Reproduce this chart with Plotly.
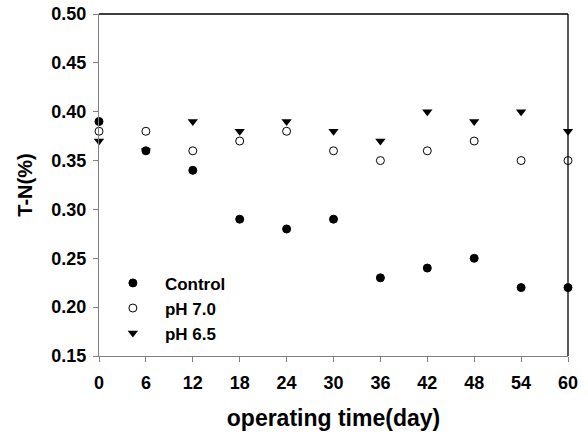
import plotly.graph_objects as go

days = [0, 6, 12, 18, 24, 30, 36, 42, 48, 54, 60]
control = [0.39, 0.36, 0.34, 0.29, 0.28, 0.29, 0.23, 0.24, 0.25, 0.22, 0.22]
ph70 = [0.38, 0.38, 0.36, 0.37, 0.38, 0.36, 0.35, 0.36, 0.37, 0.35, 0.35]
ph65 = [0.37, 0.36, 0.39, 0.38, 0.39, 0.38, 0.37, 0.40, 0.39, 0.40, 0.38]
x_ticks = [0, 6, 12, 18, 24, 30, 36, 42, 48, 54, 60]
y_ticks = [0.15, 0.20, 0.25, 0.30, 0.35, 0.40, 0.45, 0.50]

FONT = "Liberation Sans, Arial, sans-serif"

fig = go.Figure()
fig.add_trace(go.Scatter(x=days, y=control, mode="markers", name="Control",
                         marker=dict(symbol="circle", size=8, color="black",
                                     line=dict(color="black", width=1)),
                         cliponaxis=False))
fig.add_trace(go.Scatter(x=days, y=ph70, mode="markers", name="pH 7.0",
                         marker=dict(symbol="circle-open", size=8, color="black",
                                     line=dict(color="black", width=1)),
                         cliponaxis=False))
fig.add_trace(go.Scatter(x=days, y=ph65, mode="markers", name="pH 6.5",
                         marker=dict(symbol="triangle-down", size=9, color="black",
                                     line=dict(color="black", width=0)),
                         cliponaxis=False))

# top and right frame lines (black)
fig.add_shape(type="line", xref="paper", yref="paper", x0=0, x1=1, y0=1, y1=1,
              line=dict(color="black", width=1.3))
fig.add_shape(type="line", xref="paper", yref="paper", x0=1, x1=1, y0=0, y1=1,
              line=dict(color="black", width=1.3))

fig.update_layout(
    width=588, height=434,
    margin=dict(l=99, r=20, t=14, b=78, autoexpand=False),
    plot_bgcolor="white", paper_bgcolor="white",
    font=dict(family=FONT, size=16, color="black", weight="bold"),
    showlegend=True,
    legend=dict(x=0.004, y=0.265, xanchor="left", yanchor="top",
                bgcolor="rgba(0,0,0,0)", font=dict(size=17, weight="bold"),
                tracegroupgap=0, itemwidth=54),
    xaxis=dict(range=[0, 60], tickvals=x_ticks, ticktext=[str(v) for v in x_ticks],
               automargin=False,
               showgrid=False, zeroline=False, showline=True, linecolor="#808080",
               linewidth=1.3, ticks="outside", ticklen=5, tickcolor="#808080",
               ticklabelstandoff=5,
               tickfont=dict(size=18, weight="bold"),
               title=dict(text="operating time(day)", font=dict(size=23, weight="bold"),
                          standoff=18)),
    yaxis=dict(range=[0.15, 0.50], tickvals=y_ticks,
               ticktext=[f"{v:.2f}" for v in y_ticks],
               automargin=False,
               showgrid=False, zeroline=False, showline=True, linecolor="#808080",
               linewidth=1.3, ticks="outside", ticklen=5, tickcolor="#808080",
               ticklabelstandoff=3,
               tickfont=dict(size=18, weight="bold"),
               title=dict(text="T-N(%)", font=dict(size=20, weight="bold"),
                          standoff=13)),
)

fig.write_html("out.html")
